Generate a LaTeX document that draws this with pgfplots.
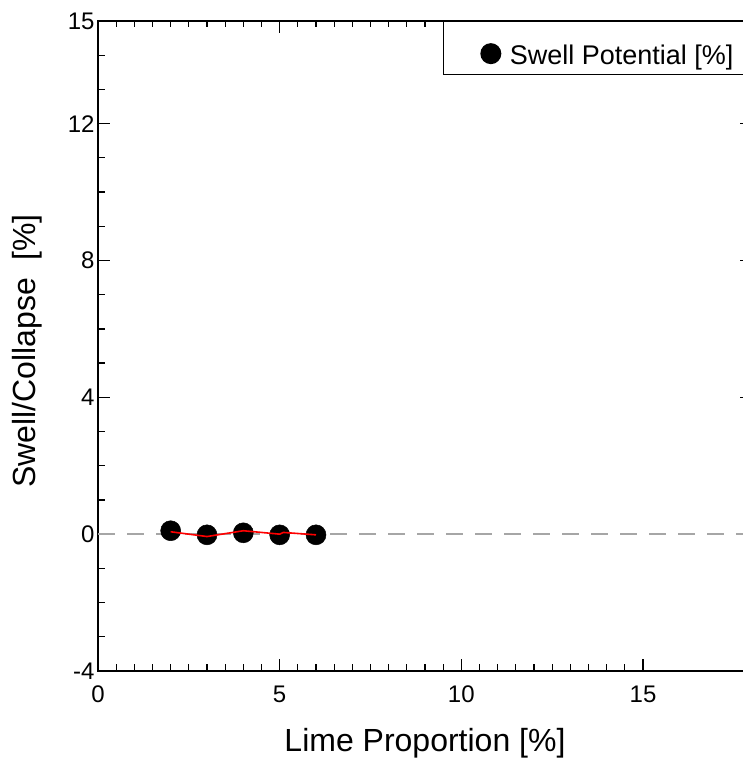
\documentclass[border=0pt]{standalone}
\usepackage{pgfplots}
\pgfplotsset{compat=1.18}
\usepackage{fontspec}
\setmainfont{Liberation Sans}

\begin{document}
\begin{tikzpicture}
\begin{axis}[
  set layers,
  clip marker paths=true,
  scale only axis,
  width=654pt, height=650pt,
  xmin=0, xmax=18, ymin=-4, ymax=15,
  xtick={0,5,10,15}, minor x tick num=9,
  ytick={-4,0,4,8,12,15},
  yticklabels={-4,0,4,8,12,15},
  xticklabels={0,5,10,15},
  minor ytick={-3,-2,-1,1,2,3,5,6,7,9,10,11,13,14},
  tick align=inside,
  major tick length=12pt, minor tick length=6.5pt,
  axis line style={line width=1.6pt, black},
  tick style={line width=1.3pt, black},
  tick label style={font=\fontsize{24}{28}\selectfont},
  xticklabel style={yshift=-11pt},
  /pgf/number format/assume math mode=true,
  label style={font=\fontsize{32}{38}\selectfont},
  xlabel={Lime Proportion [\%]},
  ylabel={Swell/Collapse\ \ [\%]},
  xlabel style={at={(axis description cs:0.5,-0.0877)}, anchor=north, inner sep=0pt},
  ylabel style={at={(axis description cs:-0.1315,0.4923)}, anchor=north, inner sep=0pt},
  legend style={at={(0.5278,1)}, anchor=north west, draw=black, line width=1.3pt,
    inner xsep=0pt, inner ysep=0pt, font=\fontsize{27}{31}\selectfont,
    nodes={inner sep=0pt, anchor=center},
    /tikz/every even column/.append style={column sep=0pt}},
  legend image code/.code={\path[draw=none,fill=none] (0pt,-26.5pt) rectangle (66pt,26.5pt); \fill[black, draw=none] (47pt,-5.5pt) circle (10.5pt);},
]
\addplot[gray!70, dash pattern=on 17pt off 12pt, line width=1.5pt, forget plot] coordinates {(0,0) (18,0)};
\addplot[only marks, mark=*, mark size=10pt, black, mark options={line width=0.5pt}] coordinates {(2,0.1) (3,-0.02) (4,0.04) (5,-0.02) (6,-0.02)};
\addlegendentry{\rule[-18pt]{0pt}{53pt}Swell Potential [\%]\hspace*{25pt}}
\addplot[red, line width=1.6pt, forget plot, on layer=axis foreground] coordinates {(2,0.07) (3,-0.07) (4,0.1) (5,0) (5.1,0.05) (6,-0.02)};
\end{axis}
\pgfresetboundingbox
\useasboundingbox (-98pt,-91pt) rectangle (645pt,671pt);
\end{tikzpicture}
\end{document}
